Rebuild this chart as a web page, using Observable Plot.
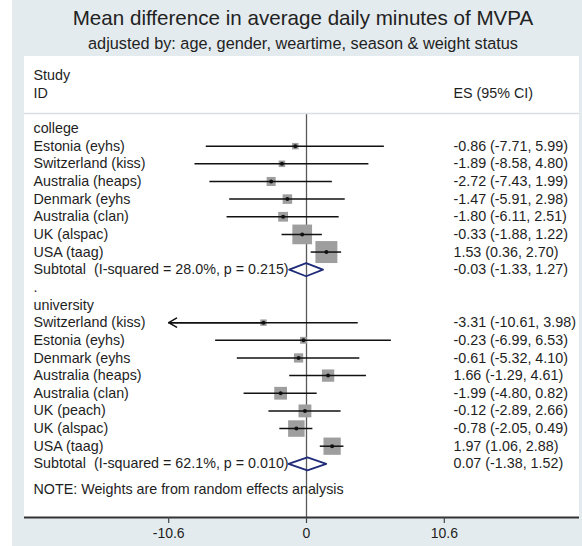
<!DOCTYPE html>
<html><head><meta charset="utf-8">
<script src="https://cdn.jsdelivr.net/npm/d3@7"></script>
<script src="https://cdn.jsdelivr.net/npm/@observablehq/plot@0.6"></script>
<style>
body{margin:0;background:#fff;font-family:"Liberation Sans",Arial,sans-serif;}
#bg{position:absolute;left:12px;top:0;width:570px;height:546px;background:#e4ebee;}
.t{position:absolute;left:24px;width:558px;text-align:center;color:#222;line-height:1;white-space:nowrap;}
#title{top:8px;font-size:20.6px;}
#subtitle{top:35px;font-size:16.3px;}
#chart{position:absolute;left:24px;top:56px;}
#chart svg{background:linear-gradient(to bottom,#fff 461px,transparent 461px);}
</style></head><body>
<div id="bg"></div>
<div id="title" class="t">Mean difference in average daily minutes of MVPA</div>
<div id="subtitle" class="t">adjusted by: age, gender, weartime, season &amp; weight status</div>
<div id="chart"></div>
<script>
const groups = ["college", "university"];

const collegeStudies = ["Estonia (eyhs)", "Switzerland (kiss)", "Australia (heaps)", "Denmark (eyhs", "Australia (clan)", "UK (alspac)", "USA (taag)"];
const collegeES = [-0.86, -1.89, -2.72, -1.47, -1.80, -0.33, 1.53];
const collegeLo = [-7.71, -8.58, -7.43, -5.91, -6.11, -1.88, 0.36];
const collegeHi = [5.99, 4.80, 1.99, 2.98, 2.51, 1.22, 2.70];
const collegeWeight = [3.4, 3.5, 6.7, 7.4, 7.8, 31.7, 39.5];

const universityStudies = ["Switzerland (kiss)", "Estonia (eyhs)", "Denmark (eyhs", "Australia (heaps)", "Australia (clan)", "UK (peach)", "UK (alspac)", "USA (taag)"];
const universityES = [-3.31, -0.23, -0.61, 1.66, -1.99, -0.12, -0.78, 1.97];
const universityLo = [-10.61, -6.99, -5.32, -1.29, -4.80, -2.89, -2.05, 1.06];
const universityHi = [3.98, 6.53, 4.10, 4.61, 0.82, 2.66, 0.49, 2.88];
const universityWeight = [3.4, 3.9, 7.0, 12.4, 13.3, 13.5, 22.3, 24.4];

const subtotalLabels = ["Subtotal\u00a0 (I-squared = 28.0%, p = 0.215)", "Subtotal\u00a0 (I-squared = 62.1%, p = 0.010)"];
const subtotalES = [-0.03, 0.07];
const subtotalLo = [-1.33, -1.38];
const subtotalHi = [1.27, 1.52];

const headerStudy = ["Study", "ID"];
const headerES = "ES (95% CI)";
const noteText = "NOTE: Weights are from random effects analysis";
const xTicks = [-10.6, 0, 10.6];

// build table rows
const groupData = [
  {studies: collegeStudies, es: collegeES, lo: collegeLo, hi: collegeHi, w: collegeWeight},
  {studies: universityStudies, es: universityES, lo: universityLo, hi: universityHi, w: universityWeight}
];
const rows = [];
rows.push({row: -3, label: headerStudy[0]});
rows.push({row: -2, label: headerStudy[1], right: headerES});
const studies = [];
const subtotals = [];
let r = 0;
groups.forEach((g, gi) => {
  const G = groupData[gi];
  rows.push({row: r++, label: g});
  G.studies.forEach((s, k) => {
    const d = {row: r++, label: s, es: G.es[k], lo: G.lo[k], hi: G.hi[k], w: G.w[k]};
    studies.push(d);
    rows.push(d);
  });
  const st = {row: r++, label: subtotalLabels[gi], es: subtotalES[gi], lo: subtotalLo[gi], hi: subtotalHi[gi], g: gi};
  subtotals.push(st);
  rows.push(st);
  if (gi < groups.length - 1) rows.push({row: r++, label: "."});
});
const f2 = v => v.toFixed(2);
rows.forEach(d => { if (d.es !== undefined) d.right = `${f2(d.es)} (${f2(d.lo)}, ${f2(d.hi)})`; });

const halfH = 0.37;
const diamond = subtotals.flatMap(d => [
  {g: d.g, x: d.lo, y: d.row}, {g: d.g, x: d.es, y: d.row - halfH},
  {g: d.g, x: d.hi, y: d.row}, {g: d.g, x: d.es, y: d.row + halfH},
  {g: d.g, x: d.lo, y: d.row}
]);
const xMin = xTicks[0];
const clipped = studies.filter(d => d.lo < xMin);

const yDomain = [-4.08, 22.04];
const fs = 14.3;
const ink = "#1e1e1e";
const chart = Plot.plot({
  width: 555, height: 490,
  marginTop: 0, marginBottom: 29, marginLeft: 0, marginRight: 0,
  style: {fontFamily: "Liberation Sans, Arial, sans-serif", fontSize: "14px", color: "#333", background: null},
  x: {domain: [-282/13, 273/13], label: null, axis: null},
  y: {domain: yDomain, reverse: true, axis: null},
  r: {range: [0, 12.4]},
  marks: [
    Plot.ruleX([0], {stroke: "#5a5a5a", strokeWidth: 1.3, insetTop: 57}),
    Plot.ruleY([0], {dy: -15, stroke: "#dcdfe1", strokeWidth: 1.5}),
    Plot.dot(studies, {x: "es", y: "row", r: "w", symbol: "square", fill: "#9e9e9e"}),
    Plot.ruleY(studies, {y: "row", x1: d => Math.max(d.lo, xMin), x2: "hi", stroke: "#111", strokeWidth: 1.5}),
    Plot.arrow(clipped, {x1: "es", y1: "row", x2: () => xMin, y2: "row", stroke: "#111", strokeWidth: 1.5, headLength: 9}),
    Plot.dot(studies, {x: "es", y: "row", r: 2, fill: "#111"}),
    Plot.line(diamond, {x: "x", y: "y", z: "g", stroke: "#1f2a78", strokeWidth: 1.8}),
    Plot.text(rows, {y: "row", text: "label", frameAnchor: "left", dx: 9, textAnchor: "start", fontSize: fs, fill: ink}),
    Plot.text(rows.filter(d => d.right), {y: "row", text: "right", frameAnchor: "left", dx: 429, textAnchor: "start", fontSize: fs, fill: ink}),
    Plot.text([noteText], {text: d => d, frameAnchor: "bottom-left", dx: 9, dy: -24, textAnchor: "start", fontSize: fs, fill: ink}),
    Plot.ruleY([yDomain[1]], {stroke: "#333", strokeWidth: 1.8}),
    Plot.axisX({ticks: xTicks, tickFormat: d => String(d), tickSize: 6, tickPadding: 5, fontSize: 14, stroke: "#444", fill: ink, strokeWidth: 1.2})
  ]
});
document.getElementById("chart").append(chart);
</script>
</body></html>
